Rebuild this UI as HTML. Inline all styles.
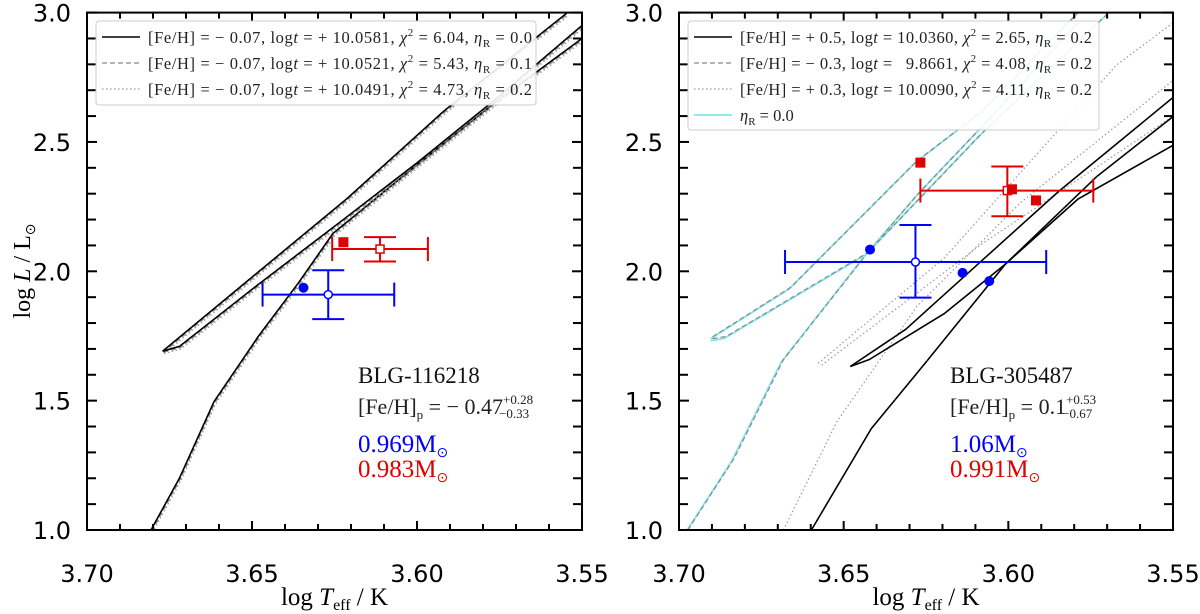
<!DOCTYPE html>
<html><head><meta charset="utf-8"><style>
body{margin:0;background:#fff;}
svg{display:block;}
.tk{font-family:"DejaVu Sans",sans-serif;font-size:24px;fill:#000;}
.sf{font-family:"Liberation Serif",serif;}
</style></head><body>
<svg id="chart" width="1200" height="614" xmlns="http://www.w3.org/2000/svg"></svg>
<script>
// ---- data (logTeff, logL) ----
const xTicks=[3.70,3.65,3.60,3.55];
const yTicks=[1.0,1.5,2.0,2.5,3.0];
// Left panel tracks
const L_rgb=[[3.6806,1.0],[3.672,1.2],[3.6615,1.496],[3.648,1.75],[3.636,1.954],[3.6255,2.146],[3.5999,2.413],[3.5767,2.649],[3.55,2.90]];
const L_agbUp=[[3.6771,1.691],[3.6452,2.028],[3.6213,2.280],[3.5918,2.620],[3.5547,2.997]];
const L_agbLow=[[3.6771,1.691],[3.6719,1.710],[3.648,1.95],[3.6213,2.21],[3.5999,2.42],[3.5767,2.66],[3.55,2.95]];
// Left panel stars
const L_blueObs=[3.6269,1.910], L_blueErrX=[3.6468,3.6069], L_blueErrY=[1.815,2.004];
const L_redObs=[3.6112,2.086], L_redErrX=[3.6257,3.5967], L_redErrY=[2.038,2.132];
const L_blueFit=[[3.6344,1.9364]];
const L_redFit=[[3.6223,2.1124]];
// Right panel tracks
const R_solidRgb=[[3.6598,1.0],[3.6416,1.392],[3.6253,1.644],[3.6009,2.028],[3.5788,2.280],[3.55,2.487]];
const R_solidUp=[[3.648,1.632],[3.6311,1.776],[3.6079,2.043],[3.5847,2.309],[3.55,2.672]];
const R_solidLow=[[3.648,1.632],[3.6422,1.659],[3.6195,1.836],[3.6009,2.028],[3.5730,2.368],[3.55,2.598]];
const R_dotRgb=[[3.6683,1.0],[3.652,1.42],[3.6277,1.865],[3.5963,2.265],[3.55,2.738]];
const R_dotUp=[[3.6578,1.644],[3.6195,2.051],[3.5672,2.797],[3.5500,2.96]];
const R_dotLow=[[3.6567,1.637],[3.6079,2.107],[3.55,2.60]];
const R_dashRgb=[[3.6973,1.0],[3.6834,1.274],[3.6683,1.658],[3.6427,2.072],[3.6267,2.309],[3.6079,2.56],[3.5788,2.96]];
const R_dashUp=[[3.6898,1.747],[3.666,1.939],[3.6277,2.427],[3.6079,2.62],[3.5788,3.0]];
const R_dashLow=[[3.6898,1.740],[3.6857,1.748],[3.6427,2.072],[3.6079,2.535],[3.5695,3.0]];
// Right panel stars
const R_blueObs=[3.6282,2.036], R_blueErrX=[3.6678,3.5885], R_blueErrY=[1.898,2.179];
const R_redObs=[3.6003,2.312], R_redErrX=[3.6267,3.5742], R_redErrY=[2.213,2.405];
const R_blueFit=[[3.642,2.084],[3.6139,1.994],[3.6058,1.962]];
const R_redFit=[[3.6267,2.42],[3.5989,2.317],[3.5916,2.274]];

const svg=document.getElementById('chart');
const NS='http://www.w3.org/2000/svg';
function mk(tag,attrs,parent){const e=document.createElementNS(NS,tag);for(const k in attrs)e.setAttribute(k,attrs[k]);(parent||svg).appendChild(e);return e;}

function panel(x0,x1,y0,y1,id){
  const g=mk('g',{});
  
  
  const sx=v=>x0+(3.70-v)/0.15*(x1-x0);
  const sy=v=>y1-(v-1.0)/2.0*(y1-y0);
  const clipId='clip'+id;
  const cp=mk('clipPath',{id:clipId},g);mk('rect',{x:x0,y:y0,width:x1-x0,height:y1-y0},cp);
  const plot=mk('g',{'clip-path':'url(#'+clipId+')'},g);
  return {g,plot,sx,sy,x0,x1,y0,y1};
}
function line(P,pts,style,name,dx,dy){
  dx=dx||0;dy=dy||0;
  const d=pts.map((p,i)=>(i?'L':'M')+(P.sx(p[0])+dx).toFixed(1)+' '+(P.sy(p[1])+dy).toFixed(1)).join(' ');
  const e=mk('path',Object.assign({d:d,fill:'none','stroke-linejoin':'round'},style),P.plot);
  
  
}
function axes(P,id){
  const g=P.g;
  for(let v=3.70;v>=3.5499;v-=0.01){
    const x=P.sx(v), maj=Math.abs(Math.round(v*100)%5)<0.01;
    const l=maj?9:6;
    mk('line',{x1:x,x2:x,y1:P.y1,y2:P.y1-l,stroke:'#000','stroke-width':2},g);
    mk('line',{x1:x,x2:x,y1:P.y0,y2:P.y0+l,stroke:'#000','stroke-width':2},g);
  }
  for(let i=0;i<=20;i++){
    const v=1+i*0.1,y=P.sy(v),l=(i%5==0)?10:9;
    mk('line',{x1:P.x0,x2:P.x0+l,y1:y,y2:y,stroke:'#000','stroke-width':2},g);
    mk('line',{x1:P.x1,x2:P.x1-l,y1:y,y2:y,stroke:'#000','stroke-width':2},g);
  }
  const fr=mk('rect',{x:P.x0,y:P.y0,width:P.x1-P.x0,height:P.y1-P.y0,fill:'none',stroke:'#000','stroke-width':2},g);
  
  xTicks.forEach(v=>{const t=mk('text',{x:P.sx(v),y:582,'text-anchor':'middle',class:'tk'},g);t.textContent=v.toFixed(2);
    });
  yTicks.forEach(v=>{const t=mk('text',{x:P.x0-16,y:P.sy(v)+9,'text-anchor':'end',class:'tk'},g);t.textContent=v.toFixed(1);
    });
  const xl=mk('text',{x:(P.x0+P.x1)/2,y:605,'text-anchor':'middle',class:'sf','font-size':25},g);
  xl.innerHTML='log <tspan font-style="italic">T</tspan><tspan font-size="16" dy="5">eff</tspan><tspan dy="-5"> / K</tspan>';
  
}
function star(P,obs,ex,ey,fits,color,shape,name){
  const s={stroke:color,'stroke-width':2};
  const x=P.sx(obs[0]),y=P.sy(obs[1]);
  mk('line',Object.assign({x1:P.sx(ex[0]),x2:P.sx(ex[1]),y1:y,y2:y},s),P.g);
  mk('line',Object.assign({x1:x,x2:x,y1:P.sy(ey[0]),y2:P.sy(ey[1])},s),P.g);
  [ex[0],ex[1]].forEach(v=>mk('line',Object.assign({x1:P.sx(v),x2:P.sx(v),y1:y-12,y2:y+12},s),P.g));
  [ey[0],ey[1]].forEach(v=>mk('line',Object.assign({x1:x-16,x2:x+16,y1:P.sy(v),y2:P.sy(v)},s),P.g));
  let o;
  if(shape=='c') o=mk('circle',{cx:x,cy:y,r:4,fill:'#fff',stroke:color,'stroke-width':1.5},P.g);
  else o=mk('rect',{x:x-4,y:y-4,width:8,height:8,fill:'#fff',stroke:color,'stroke-width':1.5},P.g);
  
  fits.forEach(p=>{let f;
    if(shape=='c') f=mk('circle',{cx:P.sx(p[0]),cy:P.sy(p[1]),r:5,fill:color},P.g);
    else f=mk('rect',{x:P.sx(p[0])-5,y:P.sy(p[1])-5,width:10,height:10,fill:color},P.g);
    });
}
function legend(P,x,y,w,h,rows,id,tl){
  const g=mk('g',{},P.g);
  
  mk('rect',{x:x,y:y,width:w,height:h,rx:3,fill:'#fff','fill-opacity':0.9,stroke:'#ccc','stroke-width':1},g);
  rows.forEach((r,i)=>{const yy=y+16+i*26;
    mk('line',Object.assign({x1:x+6,x2:x+44,y1:yy,y2:yy},r[0]),g);
    const a={x:x+52,y:yy+6,class:'sf','font-size':16.5,fill:'#222'};
    if(r[2]!==false){a.textLength=tl;a.lengthAdjust='spacing';}
    const t=mk('text',a,g);t.innerHTML=r[1];
    });
}
function txt(P,x,y,html,color,size,name){const t=mk('text',{x:x,y:y,class:'sf','font-size':size,fill:color},P.g);t.innerHTML=html;
  }

const solid={stroke:'#000','stroke-width':1.6};
const dash={stroke:'#888','stroke-width':1.2,'stroke-dasharray':'5,3'};
const dot={stroke:'#999','stroke-width':1.2,'stroke-dasharray':'1.5,2.5'};
const cyan={stroke:'#7fe8ee','stroke-width':1.8};

// Left panel
const A=panel(87,582,12.6,530,'left');
[L_rgb,L_agbUp,L_agbLow].forEach((t,i)=>{
  line(A,t,dot,'track-eta-0.2',1.5,2.5);
  line(A,t,dash,'track-eta-0.1',0.8,1.2);
  line(A,t,solid,'track-eta-0.0');
});
axes(A,'left');
star(A,L_blueObs,L_blueErrX,L_blueErrY,L_blueFit,'#0000ff','c','blue-star');
star(A,L_redObs,L_redErrX,L_redErrY,L_redFit,'#e00000','s','red-star');
const ml='[Fe/H] = &#8722; 0.07, log<tspan font-style="italic">t</tspan> = + ';
const ch=(c,e)=>' <tspan font-style="italic">χ</tspan><tspan font-size="11" dy="-7">2</tspan><tspan dy="7"> = '+c+', <tspan font-style="italic">η</tspan><tspan font-size="11" dy="4">R</tspan><tspan dy="-4"> = '+e+'</tspan></tspan>';
legend(A,96,21,440,84,[
 [solid,ml+'10.0581,'+ch('6.04','0.0')],
 [dash,ml+'10.0521,'+ch('5.43','0.1')],
 [dot,ml+'10.0491,'+ch('4.73','0.2')]
],'left',384);
txt(A,358,383,'BLG-116218','#111',23,'star-id-label');
txt(A,358,414,'[Fe/H]<tspan font-size="13" dy="5">p</tspan><tspan dy="-5"> = &#8722; 0.47</tspan><tspan font-size="13" dy="-10">+0.28</tspan><tspan font-size="13" dx="-34" dy="14">&#8722;0.33</tspan>','#222',22,'metallicity-label');
txt(A,358,452,'0.969M<tspan font-size="14" dy="5">&#8857;</tspan>','#0000ff',25,'blue-mass-label');
txt(A,358,477,'0.983M<tspan font-size="14" dy="5">&#8857;</tspan>','#e00000',25,'red-mass-label');
const yl=mk('text',{x:0,y:0,class:'sf','font-size':24,'text-anchor':'middle',transform:'translate(30,271) rotate(-90)'});
yl.innerHTML='log <tspan font-style="italic">L</tspan> / L<tspan font-size="14" dy="5">&#8857;</tspan>';


// Right panel
const B=panel(679,1173,12.6,530,'right');
[R_dashRgb,R_dashUp,R_dashLow].forEach(t=>{line(B,t,cyan,'track-eta-0.0',-2,2);line(B,t,dash,'track-feh-m0.3');});
[R_dotRgb,R_dotUp,R_dotLow].forEach(t=>line(B,t,dot,'track-feh-p0.3'));
[R_solidRgb,R_solidUp,R_solidLow].forEach(t=>line(B,t,solid,'track-feh-p0.5'));
axes(B,'right');
star(B,R_blueObs,R_blueErrX,R_blueErrY,R_blueFit,'#0000ff','c','blue-star');
star(B,R_redObs,R_redErrX,R_redErrY,R_redFit,'#e00000','s','red-star');
legend(B,688,21,411,109,[
 [solid,'[Fe/H] = + 0.5, log<tspan font-style="italic">t</tspan> = 10.0360,'+ch('2.65','0.2')],
 [dash,'[Fe/H] = &#8722; 0.3, log<tspan font-style="italic">t</tspan> = &#8199;9.8661,'+ch('4.08','0.2')],
 [dot,'[Fe/H] = + 0.3, log<tspan font-style="italic">t</tspan> = 10.0090,'+ch('4.11','0.2')],
 [cyan,'<tspan font-style="italic">η</tspan><tspan font-size="11" dy="4">R</tspan><tspan dy="-4"> = 0.0</tspan>',false]
],'right',352);
txt(B,950,383,'BLG-305487','#111',23,'star-id-label');
txt(B,950,414,'[Fe/H]<tspan font-size="13" dy="5">p</tspan><tspan dy="-5"> = 0.1</tspan><tspan font-size="13" dy="-10">+0.53</tspan><tspan font-size="13" dx="-34" dy="14">&#8722;0.67</tspan>','#222',22,'metallicity-label');
txt(B,950,452,'1.06M<tspan font-size="14" dy="5">&#8857;</tspan>','#0000ff',25,'blue-mass-label');
txt(B,950,477,'0.991M<tspan font-size="14" dy="5">&#8857;</tspan>','#e00000',25,'red-mass-label');
</script>
</body></html>
